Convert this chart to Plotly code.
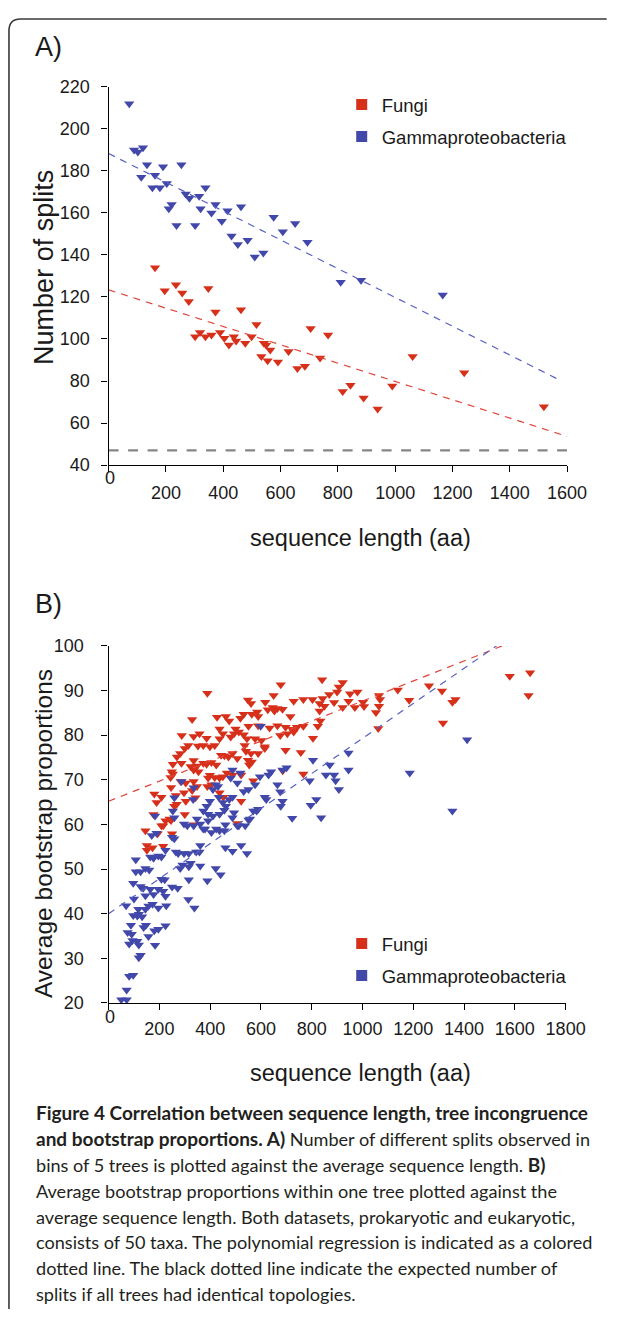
import numpy as np
import plotly.graph_objects as go

# page geometry: the browser body keeps its default 8px margin, so the figure is 16px smaller
PAGE_W, PAGE_H = 627, 1319
OFF = 8
W, H = PAGE_W - 2 * OFF, PAGE_H - 2 * OFF

# ---------------- data: panel A (number of splits) ----------------
fungi_a_len = [162, 196, 235, 257, 280, 348, 373, 462, 302, 319, 338, 359, 389, 404, 420, 437, 445, 477, 499, 516,
               542, 550, 564, 533, 555, 591, 628, 659, 685, 705, 738, 766, 817, 844, 890, 939, 1061, 1241, 1519, 990]
fungi_a_splits = [133.9, 123, 125.8, 121.9, 117.8, 124, 112.8, 113.9, 101.1, 103.1, 101.1, 101.9, 103.1, 100.3, 97.2,
                  101.1, 99.1, 98, 101.1, 106.9, 98, 97.2, 94.8, 91.7, 89.7, 89.1, 94, 85.9, 87, 105, 91, 101.9, 75,
                  78, 71.9, 66.7, 91.7, 83.9, 67.8, 77.6]
gamma_a_len = [72, 89, 102, 120, 134, 114, 162, 190, 254, 153, 179, 203, 220, 210, 237, 269, 282, 302, 316, 338,
               321, 359, 373, 395, 415, 462, 429, 451, 485, 510, 540, 576, 608, 651, 694, 810, 881, 1166]
gamma_a_splits = [212, 190, 189, 191, 183, 177, 178, 182, 183, 172, 172, 174, 164, 162, 154, 169, 167, 154, 168, 172,
                  162, 160, 164, 156, 161, 163, 149, 145, 147, 139, 141, 158, 151, 155, 146, 127, 128, 121]
# regression lines (intercept, slope) and x extent
fungi_a_fit = [123.4, -0.0436]
fungi_a_fit_range = [0, 1600]
gamma_a_fit = [188.3, -0.0685]
gamma_a_fit_range = [0, 1580]
expected_splits = 47

# ---------------- data: panel B (bootstrap proportions) ----------------
fungi_b_len = [841, 922, 907, 900, 678, 389, 980, 951, 650, 869,
               549, 561, 617, 729, 767, 803, 843, 831, 888, 850, 945, 970, 1002, 1006, 922, 646, 665, 685, 627, 585,
               564, 532, 519, 589, 653, 716, 831, 834, 329, 427, 462, 475, 697, 742, 767, 665, 634, 589, 551, 500, 437,
               288, 335, 358, 386, 418, 450, 481, 513, 532, 545, 577, 602, 615, 676, 704, 729, 723, 805, 824, 437, 494,
               399, 373, 352, 314, 300, 536, 561,
               282, 269, 253, 287, 335, 348, 373, 386, 405, 424, 443, 456, 472, 488, 507, 541, 549, 564, 589, 697, 757,
               615,
               249, 253, 244, 323, 335, 354, 392, 399, 418, 437, 450, 466, 488, 522, 554, 767, 686, 570, 284, 304, 335,
               246, 180, 208, 189, 265, 297, 329, 348, 389, 405, 437, 452, 522,
               268, 259, 304, 177, 300, 246, 224, 342, 145, 208, 507, 335,
               151, 173, 215, 193, 250, 240, 215, 151,
               1580, 1660, 1654, 1262, 1313, 1139, 1184, 1065, 1069, 1065, 1053, 1062, 1354, 1366, 1317]
fungi_b_boot = [92.4, 91.8, 90.8, 89.7, 91.3, 89.4, 89.7, 89.3, 88.9, 89.1,
                87.9, 87.1, 87.4, 87.6, 88.0, 88.0, 88.2, 87.1, 87.3, 86.5, 87.6, 86.2, 87.4, 86.4, 86.2, 86.2, 86.0,
                85.8, 85.7, 85.2,
                84.7, 84.7, 83.8, 84.2, 85.4, 84.2, 85.4, 83.2, 83.5, 84.0, 84.2, 83.2, 81.8, 81.8, 82.0, 82.1, 81.6,
                82.1, 82.0, 81.4, 81.4,
                79.9, 79.7, 80.3, 79.3, 77.7, 80.3, 79.6, 80.7, 80.1, 79.2, 79.2, 78.8, 77.4, 79.9, 80.3, 80.7, 81.3,
                79.3, 82.0, 79.2, 80.3, 77.4, 77.7, 77.6, 77.7, 77.0, 77.7, 75.9,
                75.9, 75.1, 73.5, 73.7, 74.3, 73.1, 73.7, 73.5, 73.9, 73.3, 75.5, 75.4, 75.1, 75.9, 74.8, 76.4, 74.4,
                74.0, 75.9, 76.6, 76.1, 77.0,
                71.8, 71.3, 70.5, 73.0, 72.2, 71.8, 70.4, 71.0, 70.5, 70.4, 70.7, 71.5, 71.1, 71.1, 73.3, 71.3, 72.0,
                69.8, 69.6, 69.3, 69.6,
                68.3, 66.8, 66.1, 64.9, 66.5, 67.1, 67.6, 68.5, 68.5, 68.9, 67.1, 66.1, 65.2,
                64.5, 64.1, 65.2, 62.2, 62.2, 60.9, 60.8, 66.0, 58.6, 59.7, 60.2, 59.9,
                55.3, 54.8, 55.1, 57.9, 57.9, 61.2, 59.7, 54.2,
                93.2, 94, 88.9, 91.1, 89.9, 90.1, 87.8, 88.9, 88, 86.5, 85.1, 81.5, 87.4, 88, 82.7]
gamma_b_len = [599, 805, 945, 945, 871, 856, 888, 894, 907, 792, 818, 796, 723, 837, 701, 685, 640, 630, 665, 676,
               685, 678, 621, 589, 570, 615, 596, 577, 551, 532, 519, 488, 507, 481, 488, 475, 462, 450, 434, 422,
               411, 431, 399, 386, 373, 392, 411, 437, 456, 494, 488, 507, 538, 557, 583, 335, 333, 287, 259, 253,
               259, 183, 297, 310, 335, 361, 373, 189, 170,
               348, 380, 392, 405, 424, 437, 456, 460, 513, 551, 460, 488, 522, 545, 361, 345, 316, 297, 274, 323,
               358, 361, 422, 441, 389, 316, 316, 291, 282, 265, 250, 259, 224, 208, 196, 177, 164, 160, 145, 126,
               107, 107, 97, 126, 136, 145, 164, 177, 196, 208, 221, 215, 224, 250, 272, 314, 338, 227, 196, 173,
               157, 145, 119, 97, 113, 132, 147, 138, 88, 75, 91, 81, 94, 113, 119, 157, 180, 196, 224, 183,
               69, 100, 117, 126, 119, 81, 97, 71, 50, 71,
               1412, 1186, 1354]
gamma_b_boot = [82.0, 74.4, 76.0, 72.2, 73.3, 71.1, 71.1, 69.8, 67.8, 69.8, 65.6, 64.3, 61.4, 61.5, 72.7, 72.2, 71.8,
                71.1, 68.9, 67.3, 65.2, 64.1, 65.6, 63.4, 63.0, 66.1, 70.7, 68.9, 67.8, 67.4, 71.5, 72.2, 69.3, 70.4,
                66.1, 65.6, 64.1, 64.9, 66.1, 68.9, 67.8, 68.5, 65.2, 64.1, 63.0, 62.3, 61.9, 62.3, 63.2, 62.6, 61.5,
                59.7, 59.7, 61.2, 63.0, 68.2, 65.6, 69.6, 66.0, 63.0, 61.5, 61.9, 60.1, 59.7, 59.7, 60.1, 59.0, 58.0,
                57.5,
                61.2, 59.0, 60.8, 58.2, 59.0, 58.6, 58.6, 59.9, 59.7, 61.0, 54.8, 54.0, 55.3, 53.5, 55.3, 53.8, 53.5,
                53.5, 53.5, 51.3, 53.8, 50.7, 50.1, 48.7, 47.4, 47.6, 50.5, 50.9, 50.1, 53.8, 57.1, 56.8, 54.2, 52.7,
                52.9, 52.4, 52.7, 49.8, 50.1, 49.4, 49.4, 52.1, 46.8, 46.1, 45.7, 44.0, 45.5, 44.3, 45.5, 47.7, 47.6,
                45.0, 43.9, 46.0, 45.7, 43.2, 41.3, 41.8, 41.3, 42.1, 41.7, 41.0, 39.9, 39.6, 39.5, 39.3, 37.4, 36.9,
                37.4, 35.8, 35.4, 33.2, 34.0, 33.8, 33.0, 34.9, 36.2, 36.5, 37.3, 32.9,
                41.8, 43.3, 41.0, 30.7, 30.1, 26.0, 26.2, 22.9, 20.7, 20.7,
                79, 71.5, 63]
fungi_b_fit = [65.2, 0.02245]
gamma_b_fit = [40.0, 0.03927]
fit_b_range = [0, 1800]

x_ticks_a = [0, 200, 400, 600, 800, 1000, 1200, 1400, 1600]
y_ticks_a = [40, 60, 80, 100, 120, 140, 160, 180, 200, 220]
x_ticks_b = [0, 200, 400, 600, 800, 1000, 1200, 1400, 1600, 1800]
y_ticks_b = [20, 30, 40, 50, 60, 70, 80, 90, 100]

BOLD = '<b><span style="font-size:19px">{}</span></b>'
caption_lines = [
    BOLD.format("Figure 4 Correlation between sequence length, tree incongruence"),
    BOLD.format("and bootstrap proportions. A)") + " Number of different splits observed in",
    "bins of 5 trees is plotted against the average sequence length. " + BOLD.format("B)"),
    "Average bootstrap proportions within one tree plotted against the",
    "average sequence length. Both datasets, prokaryotic and eukaryotic,",
    "consists of 50 taxa. The polynomial regression is indicated as a colored",
    "dotted line. The black dotted line indicate the expected number of",
    "splits if all trees had identical topologies.",
]

# ---------------- styling ----------------
RED = "#d6301b"
BLUE = "#4148aa"
RED_LINE = "#e0453a"
BLUE_LINE = "#5660c0"
TXT = "#1a1a1a"
FONT = "Liberation Sans"
CAP_FONT = "Lato"
MSIZE = 9


def fx(p):
    return (p - OFF) / W


def fy(p):
    return 1 - (p - OFF) / H


fig = go.Figure()

# panel A
fig.add_trace(go.Scatter(x=gamma_a_len, y=gamma_a_splits, mode="markers", xaxis="x", yaxis="y",
                         marker=dict(symbol="triangle-down", size=MSIZE, color=BLUE, line=dict(width=0)),
                         showlegend=False, cliponaxis=False))
fig.add_trace(go.Scatter(x=fungi_a_len, y=fungi_a_splits, mode="markers", xaxis="x", yaxis="y",
                         marker=dict(symbol="triangle-down", size=MSIZE, color=RED, line=dict(width=0)),
                         showlegend=False, cliponaxis=False))
xr = np.array(gamma_a_fit_range, dtype=float)
fig.add_trace(go.Scatter(x=xr, y=gamma_a_fit[0] + gamma_a_fit[1] * xr, mode="lines", xaxis="x", yaxis="y",
                         line=dict(color=BLUE_LINE, width=1.2, dash="7px,6px"), showlegend=False))
xr = np.array(fungi_a_fit_range, dtype=float)
fig.add_trace(go.Scatter(x=xr, y=fungi_a_fit[0] + fungi_a_fit[1] * xr, mode="lines", xaxis="x", yaxis="y",
                         line=dict(color=RED_LINE, width=1.2, dash="7px,6px"), showlegend=False))
fig.add_trace(go.Scatter(x=[x_ticks_a[0], x_ticks_a[-1]], y=[expected_splits, expected_splits], mode="lines",
                         xaxis="x", yaxis="y", line=dict(color="#868686", width=2.3, dash="10px,9.5px"),
                         showlegend=False))

# panel B
fig.add_trace(go.Scatter(x=fungi_b_len, y=fungi_b_boot, mode="markers", xaxis="x2", yaxis="y2",
                         marker=dict(symbol="triangle-down", size=MSIZE, color=RED, line=dict(width=0)),
                         showlegend=False, cliponaxis=False))
fig.add_trace(go.Scatter(x=gamma_b_len, y=gamma_b_boot, mode="markers", xaxis="x2", yaxis="y2",
                         marker=dict(symbol="triangle-down", size=MSIZE, color=BLUE, line=dict(width=0)),
                         showlegend=False, cliponaxis=False))
xr = np.array(fit_b_range, dtype=float)
fig.add_trace(go.Scatter(x=xr, y=fungi_b_fit[0] + fungi_b_fit[1] * xr, mode="lines", xaxis="x2", yaxis="y2",
                         line=dict(color=RED_LINE, width=1.2, dash="7px,6px"), showlegend=False))
fig.add_trace(go.Scatter(x=xr, y=gamma_b_fit[0] + gamma_b_fit[1] * xr, mode="lines", xaxis="x2", yaxis="y2",
                         line=dict(color=BLUE_LINE, width=1.2, dash="7px,6px"), showlegend=False))

# legend entries (square swatches)
for name, col, grp, leg in [("Fungi", RED, "fa", "legend"), ("Gammaproteobacteria", BLUE, "ga", "legend"),
                            ("Fungi", RED, "fb", "legend2"), ("Gammaproteobacteria", BLUE, "gb", "legend2")]:
    fig.add_trace(go.Scatter(x=[None], y=[None], mode="markers", name=name, legendgroup=grp, legend=leg,
                             xaxis="x" if leg == "legend" else "x2", yaxis="y" if leg == "legend" else "y2",
                             marker=dict(symbol="square", size=11, color=col)))

axis_common = dict(showline=True, linecolor="black", linewidth=1.3, ticks="outside", ticklen=6, tickwidth=1,
                   tickcolor="black", showgrid=False, zeroline=False,
                   tickfont=dict(family=FONT, size=18, color=TXT))

fig.update_layout(
    width=W, height=H, margin=dict(l=0, r=0, t=0, b=0),
    paper_bgcolor="white", plot_bgcolor="white",
    xaxis=dict(domain=[fx(112), fx(586)], range=[0, 1600], tickvals=x_ticks_a,
               ticktext=[""] + [str(v) for v in x_ticks_a[1:]], ticklabelstandoff=5, anchor="y", **axis_common),
    yaxis=dict(domain=[fy(462), fy(78)], range=[40, 220], tickvals=y_ticks_a, ticklabelstandoff=8,
               anchor="x", **axis_common),
    xaxis2=dict(domain=[fx(112), fx(584.5)], range=[0, 1800], tickvals=x_ticks_b,
                ticktext=[""] + [str(v) for v in x_ticks_b[1:]], ticklabelstandoff=3, anchor="y2", **axis_common),
    yaxis2=dict(domain=[fy(1008.3), fy(645.7)], range=[20, 100], tickvals=y_ticks_b, ticklabelstandoff=14,
                anchor="x2", **axis_common),
    legend=dict(x=fx(353), y=fy(77), xanchor="left", yanchor="top", bgcolor="rgba(0,0,0,0)",
                font=dict(family=FONT, size=18.5, color=TXT), traceorder="grouped", tracegroupgap=5),
    legend2=dict(x=fx(353), y=fy(929), xanchor="left", yanchor="top", bgcolor="rgba(0,0,0,0)",
                 font=dict(family=FONT, size=18.5, color=TXT), traceorder="grouped", tracegroupgap=5),
)

ann = []


def add_text(text, x, y, size, xanchor="center", yanchor="middle", angle=0, family=FONT, color=TXT):
    ann.append(dict(text=text, x=fx(x), y=fy(y), xref="paper", yref="paper", showarrow=False,
                    xanchor=xanchor, yanchor=yanchor, textangle=angle,
                    font=dict(family=family, size=size, color=color)))


add_text("A)", 34, 37, 27, xanchor="left")
add_text("Number of splits", 45, 261, 27, angle=-90)
add_text(str(x_ticks_a[0]), 113, 475, 18)
add_text("sequence length (aa)", 372.5, 536, 23.5)
add_text("B)", 34, 603, 27, xanchor="left")
add_text("Average bootstrap proportions", 45, 836, 24.5, angle=-90)
add_text(str(x_ticks_b[0]), 113, 1023, 18)
add_text("sequence length (aa)", 372.5, 1079, 23.5)
for i, line in enumerate(caption_lines):
    add_text(line, 35, 1120 + 26.3 * i, 18.1, xanchor="left", family=CAP_FONT, color="#231f20")
fig.update_layout(annotations=ann)


def path_px(pts):
    out = []
    for cmd, xs in pts:
        out.append(cmd + " ".join(f"{fx(a):.5f},{fy(b):.5f}" for a, b in xs))
    return " ".join(out)


frame = path_px([("M", [(9, PAGE_H)]), ("L", [(9, 21)]), ("Q", [(9, 9), (21, 9)]), ("L", [(PAGE_W, 9)])])
fig.update_layout(shapes=[dict(type="path", path=frame, xref="paper", yref="paper",
                               line=dict(color="#3a3a3a", width=1.6))])

fig.write_html("out.html")
